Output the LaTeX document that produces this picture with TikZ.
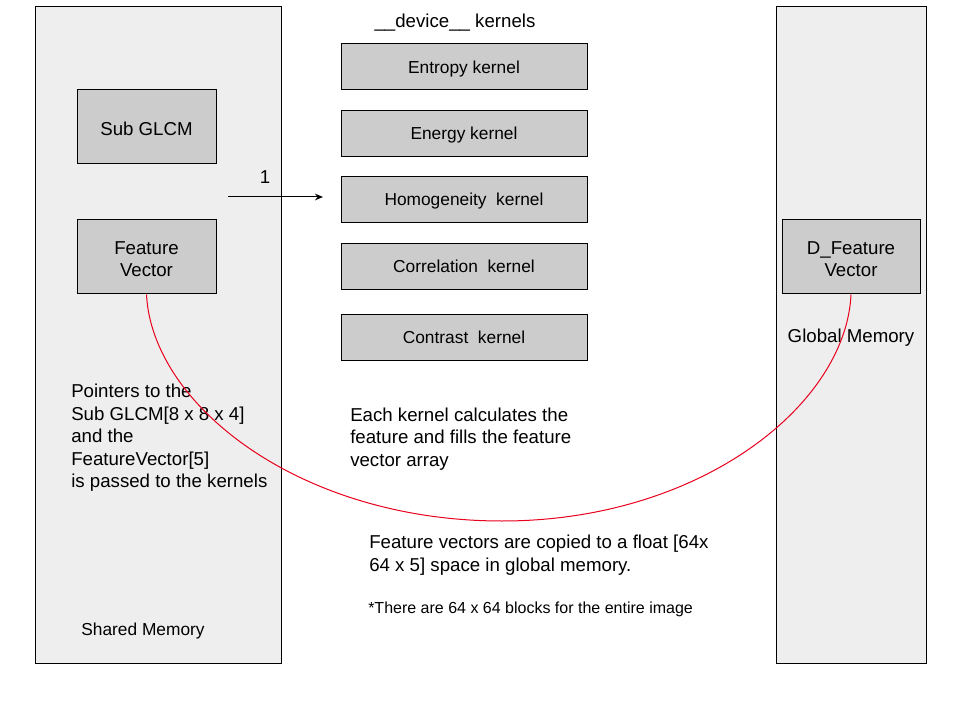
\documentclass[tikz,border=0pt]{standalone}
\usepackage{fontspec}
\setmainfont{Liberation Sans}
\usetikzlibrary{arrows.meta}
\definecolor{contfill}{HTML}{EEEEEE}
\definecolor{boxfill}{HTML}{CCCCCC}
\definecolor{curvered}{HTML}{E8001C}
\begin{document}
\begin{tikzpicture}[x=0.75pt,y=-0.75pt,
  container/.style={draw=black,fill=contfill,line width=0.75pt,inner sep=0pt,minimum height=492pt},
  membox/.style={draw=black,fill=boxfill,line width=0.75pt,inner sep=0pt,minimum height=55.5pt},
  boxtext/.style={inner sep=0pt,align=center,yshift=-1.5pt,font=\fontsize{14}{16.5}\selectfont},
  kernbox/.style={draw=black,fill=boxfill,line width=0.75pt,inner sep=0pt,minimum width=184.5pt,minimum height=34.5pt,text height=1.2em,text depth=0.24em,font=\fontsize{13}{15}\selectfont},
  note/.style={inner sep=0pt,align=left,font=\fontsize{14}{16.9}\selectfont},
  label/.style={inner sep=0pt,font=\fontsize{14}{16.9}\selectfont}]
\useasboundingbox (0,0) rectangle (960,720);
% containers
\node[container,minimum width=184.5pt] (shared) at (158,335) {};
\node[container,minimum width=112.5pt] (global) at (851,335) {};
% memory boxes
\node[membox,minimum width=104.25pt] (subglcm) at (146.5,127) {};
\node[boxtext] (subglcmtext) at (subglcm) {Sub GLCM};
\node[membox,minimum width=104.25pt] (fv) at (146.5,257) {};
\node[boxtext] (fvtext) at (fv) {Feature\\Vector};
\node[membox,minimum width=103.5pt] (dfv) at (851,257) {};
\node[boxtext] (dfvtext) at (dfv) {D\_Feature\\Vector};
% kernels
\node[label] (devk) at (455,23) {\_\_device\_\_ kernels};
\node[kernbox] (entropy) at (464,67) {Entropy kernel};
\node[kernbox] (energy) at (464,133.5) {Energy kernel};
\node[kernbox] (homog) at (464,199.5) {Homogeneity\ \ kernel};
\node[kernbox] (corr) at (464,266.5) {Correlation\ \ kernel};
\node[kernbox] (contrast) at (464,337) {Contrast\ \ kernel};
% arrow
\coordinate (arrs) at (228,197);
\coordinate (arre) at (323,197);
\draw[line width=0.75pt,-{Stealth[length=6pt,width=5pt]}] (arrs) -- (arre);
\node[label] (one) at (265,177) {1};
% texts
\node[note,anchor=west] (pointers) at (71,438) {Pointers to the\\Sub GLCM[8 x 8 x 4]\\and the\\FeatureVector[5]\\is passed to the kernels};
\node[note,anchor=west] (each) at (350,439) {Each kernel calculates the\\feature and fills the feature\\vector array};
\node[note,anchor=west] (copied) at (369,555) {Feature vectors are copied to a float [64x\\64 x 5] space in global memory.};
\node[inner sep=0pt,anchor=west,font=\fontsize{12}{14}\selectfont] (blocks) at (368,609) {*There are 64 x 64 blocks for the entire image};
\node[inner sep=0pt,font=\fontsize{13}{15}\selectfont] (sharedlbl) at (143,631) {Shared Memory};
\node[label] (globallbl) at (851,338) {Global Memory};
% red curve
\coordinate (bottom) at (502,521);
\draw[curvered,line width=0.75pt] (fv.south) .. controls (152,405) and (300,521) .. (bottom)
  .. controls (700,521) and (846,405) .. (dfv.south);
\end{tikzpicture}
\end{document}
